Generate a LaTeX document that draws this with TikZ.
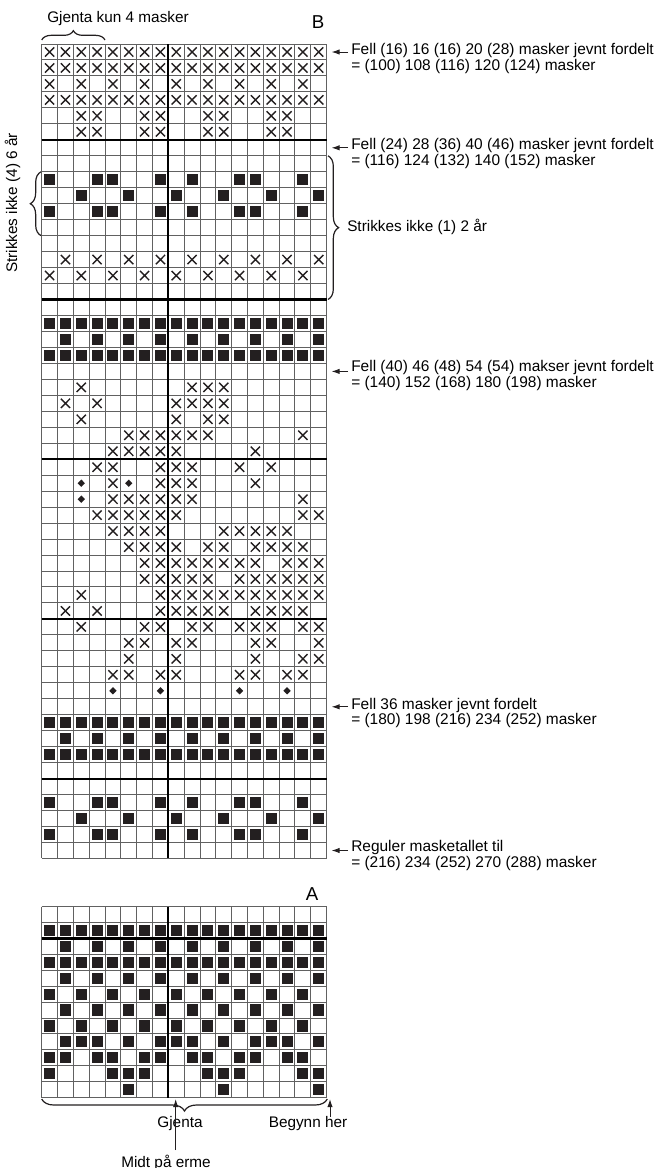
\documentclass[tikz,border=0pt]{standalone}
\usepackage{fontspec}
\setmainfont{Liberation Sans}
\usetikzlibrary{arrows.meta,decorations.pathreplacing}
\definecolor{ink}{HTML}{231F20}
\newcommand\rowX[2]{\foreach \q in {#2}{\draw[xm] (\q-0.79,#1-0.79) -- (\q-0.21,#1-0.21) (\q-0.79,#1-0.21) -- (\q-0.21,#1-0.79);}}
\newcommand\rowF[2]{\foreach \q in {#2}{\fill[ink] (\q-0.85,#1-0.85) rectangle (\q-0.15,#1-0.15);}}
\newcommand\rowD[2]{\foreach \q in {#2}{\fill[ink] (\q-0.5,#1-0.73) -- (\q-0.27,#1-0.5) -- (\q-0.5,#1-0.27) -- (\q-0.73,#1-0.5) -- cycle;}}
\begin{document}
\begin{tikzpicture}[x=0.75pt,y=-0.75pt,
  gl/.style={draw=black!62, line width=0.75pt},
  tl/.style={draw=black, line width=1.6pt},
  xm/.style={draw=ink, line width=1.05pt},
  lab/.style={font=\fontsize{11.6}{10.3}\selectfont, align=left, anchor=north west, inner sep=0pt},
  txt/.style={font=\fontsize{11.5}{13}\selectfont, inner sep=0pt},
  big/.style={font=\fontsize{14}{16}\selectfont, inner sep=0pt},
  arr/.style={-{Latex[length=6pt,width=4pt]}, line width=0.75pt, draw=ink},
  br/.style={draw=ink, line width=0.9pt, decorate}]
\useasboundingbox (0,0) rectangle (667,1168);

% ---------------- Chart B ----------------
\begin{scope}[shift={(41.7,44)}, x=11.8725pt, y=-11.9775pt]
\foreach \i in {0,...,18} \draw[gl] (\i,0) -- (\i,51);
\foreach \j in {0,...,51} \draw[gl] (0,\j) -- (18,\j);
\draw[tl] (8,0) -- (8,51);
\foreach \j in {6,16,26,36,46} \draw[tl] (0,\j) -- (18,\j);
\rowX{1}{1,...,18}
\rowX{2}{1,...,18}
\rowX{3}{1,3,...,17}
\rowX{4}{1,...,18}
\rowX{5}{3,4,7,8,11,12,15,16}
\rowX{6}{3,4,7,8,11,12,15,16}
\rowF{9}{1,4,5,8,10,13,14,17}
\rowF{10}{3,6,9,12,15,18}
\rowF{11}{1,4,5,8,10,13,14,17}
\rowX{14}{2,4,...,18}
\rowX{15}{1,3,...,17}
\rowF{18}{1,...,18}
\rowF{19}{2,4,...,18}
\rowF{20}{1,...,18}
\rowX{22}{3,10,11,12}
\rowX{23}{2,4,9,10,11,12}
\rowX{24}{3,9,11,12}
\rowX{25}{6,7,8,9,10,11,17}
\rowX{26}{5,6,7,8,9,14}
\rowX{27}{4,5,8,9,10,13,15}
\rowD{28}{3,6}
\rowX{28}{5,8,9,10,14}
\rowD{29}{3}
\rowX{29}{5,6,7,8,9,10,17}
\rowX{30}{4,5,6,7,8,9,17,18}
\rowX{31}{5,6,7,8,12,13,14,15,16}
\rowX{32}{6,7,8,9,11,12,14,15,16,17}
\rowX{33}{7,8,9,10,11,12,13,14,16,17,18}
\rowX{34}{7,8,9,10,11,13,14,15,16,17,18}
\rowX{35}{3,8,9,10,11,12,13,14,15,16,17,18}
\rowX{36}{2,4,8,9,10,11,12,14,15,16,17}
\rowX{37}{3,7,8,10,11,13,14,15,17,18}
\rowX{38}{6,7,9,10,14,15,18}
\rowX{39}{6,9,14,17,18}
\rowX{40}{5,6,8,9,13,14,16,17}
\rowD{41}{5,8,13,16}
\rowF{43}{1,...,18}
\rowF{44}{2,4,...,18}
\rowF{45}{1,...,18}
\rowF{48}{1,4,5,8,10,13,14,17}
\rowF{49}{3,6,9,12,15,18}
\rowF{50}{1,4,5,8,10,13,14,17}
\end{scope}

% ---------------- Chart A ----------------
\begin{scope}[shift={(41.7,906.7)}, x=11.8725pt, y=-11.925pt]
\foreach \i in {0,...,18} \draw[gl] (\i,0) -- (\i,12);
\foreach \j in {0,...,12} \draw[gl] (0,\j) -- (18,\j);
\draw[tl] (8,0) -- (8,12);
\draw[tl] (0,2) -- (18,2);
\rowF{2}{1,...,18}
\rowF{3}{2,4,...,18}
\rowF{4}{1,...,18}
\rowF{5}{2,4,...,18}
\rowF{6}{1,3,...,17}
\rowF{7}{2,4,...,18}
\rowF{8}{1,3,...,17}
\rowF{9}{2,3,4,6,8,9,10,12,14,15,16,18}
\rowF{10}{1,2,4,5,7,8,10,11,13,14,16,17}
\rowF{11}{1,5,6,7,11,12,13,17,18}
\rowF{12}{6,12,18}
\end{scope}

% ---------------- Titles ----------------
\node[big, anchor=base] (tB) at (318,28.5) {B};
\node[big, anchor=base] (tA) at (312,900) {A};

% ---------------- Braces ----------------
\draw[br, decoration={brace, amplitude=7pt}] (41.7,40) -- (105,40);
\node[txt, anchor=base west] (gjk) at (47,22) {Gjenta kun 4 masker};

\draw[br, decoration={brace, amplitude=8pt}] (41,235.6) -- (41,171.8);
\node[txt, rotate=90, anchor=base] (sk4) at (17,203) {Strikkes ikke (4) 6 år};

\draw[br, decoration={brace, amplitude=8pt}] (328,155.8) -- (328,299.5);
\node[txt, anchor=base west] (sk1) at (347,231) {Strikkes ikke (1) 2 år};

\draw[br, decoration={brace, amplitude=9pt}] (327.3,1099) -- (41.7,1099);

% ---------------- Annotations ----------------
\node[lab] (n1) at (351,43.5) {Fell (16) 16 (16) 20 (28) masker jevnt fordelt\\= (100) 108 (116) 120 (124) masker};
\node[lab] (n2) at (351,137.8) {Fell (24) 28 (36) 40 (46) masker jevnt fordelt\\= (116) 124 (132) 140 (152) masker};
\node[lab] (n3) at (351,360.2) {Fell (40) 46 (48) 54 (54) makser jevnt fordelt\\= (140) 152 (168) 180 (198) masker};
\node[lab] (n4) at (351,697.7) {Fell 36 masker jevnt fordelt\\= (180) 198 (216) 234 (252) masker};
\node[lab] (n5) at (351,840.2) {Reguler masketallet til\\= (216) 234 (252) 270 (288) masker};

\foreach \k/\yy in {1/52,2/147.8,3/371.4,4/706.8,5/850.5}{
  \coordinate (s\k) at (348,\yy);
  \coordinate (e\k) at (331.5,\yy);
  \draw[arr] (s\k) -- (e\k);
}

% ---------------- Bottom labels ----------------
\node[txt, anchor=base] (gj) at (180,1127) {Gjenta};
\node[txt, anchor=base] (bh) at (308,1127) {Begynn her};
\node[txt, anchor=base] (mid) at (166,1167) {Midt på erme};
\coordinate (m1) at (175.7,1150);
\coordinate (m2) at (175.7,1099);
\draw[arr] (m1) -- (m2);
\coordinate (b1) at (330,1117);
\coordinate (b2) at (330,1099);
\draw[arr] (b1) -- (b2);
\end{tikzpicture}
\end{document}
